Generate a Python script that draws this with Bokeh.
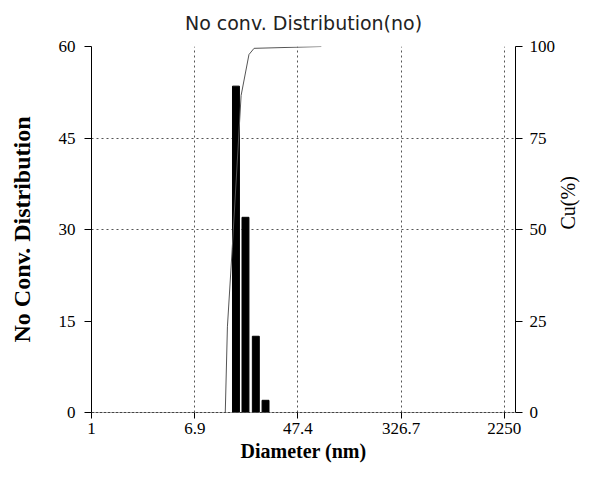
import math
from bokeh.plotting import figure
from bokeh.models import Range1d, LinearAxis, FixedTicker, CustomJSTickFormatter
from bokeh.embed import file_html
from bokeh.resources import INLINE

# ---- data ----
diameter_ticks = [1, 6.9, 47.4, 326.7, 2250]
bar_diameter = [14.9, 17.8, 21.6, 25.9]          # nm, bin centres
bar_count = [53.5, 32.0, 12.5, 2.0]              # No conv. distribution
cum_diameter = [12.2, 12.7, 13.9, 16.4, 19.0, 20.9, 73.5]
cum_percent = [0, 23.4, 44.9, 86.6, 97.8, 99.5, 100]
left_ticks = [0, 15, 30, 45, 60]
right_ticks = [0, 25, 50, 75, 100]
grid_ticks = [30, 45]

BAR_HALF = 1.067  # half bar width as a ratio on the log axis
SERIF = "Liberation Serif"

p = figure(width=593, height=464, x_axis_type="log",
           x_range=Range1d(1, 2775), y_range=Range1d(0, 60),
           output_backend="svg", toolbar_location=None,
           title="No conv. Distribution(no)",
           min_border_left=91, min_border_right=74,
           min_border_top=45, min_border_bottom=51)
p.extra_y_ranges = {"cu": Range1d(0, 100)}
p.outline_line_color = None
p.background_fill_color = "white"

p.title.align = "center"
p.title.vertical_align = "top"
p.title.text_font = "DejaVu Sans"
p.title.text_font_size = "19px"
p.title.text_font_style = "normal"
p.title.text_color = "#222222"
p.title.standoff = 22
p.title.offset = 6

# bars
p.quad(left=[d / BAR_HALF for d in bar_diameter],
       right=[d * BAR_HALF for d in bar_diameter],
       bottom=0, top=bar_count, fill_color="black", line_color="black")

# cumulative
p.line(cum_diameter, cum_percent, y_range_name="cu", line_color="#555555", line_width=1)

# axes
xa = p.xaxis[0]
xa.ticker = FixedTicker(ticks=diameter_ticks)
xa.formatter = CustomJSTickFormatter(code="return String(tick)")
xa.axis_label = "Diameter (nm)"
xa.axis_line_dash = "3 1"
xa.axis_line_color = "#444444"

ya = p.yaxis[0]
ya.ticker = FixedTicker(ticks=left_ticks)
ya.axis_label = "No Conv. Distribution"

ra = LinearAxis(y_range_name="cu", ticker=FixedTicker(ticks=right_ticks), axis_label="Cu(%)")
p.add_layout(ra, "right")

for ax in (xa, ya, ra):
    ax.major_label_text_font = SERIF
    ax.major_label_text_font_size = "17px"
    ax.major_label_text_color = "black"
    ax.axis_label_text_font = SERIF
    ax.axis_label_text_font_size = "21px"
    ax.axis_label_text_font_style = "bold"
    ax.axis_label_text_color = "black"
    ax.minor_tick_line_color = None
    ax.major_tick_in = 0
    ax.major_tick_out = 7
    ax.major_tick_line_color = "black"
    ax.major_label_standoff = 7

xa.major_tick_out = 6
xa.major_label_standoff = 4
xa.axis_label_standoff = 3
xa.axis_label_text_font_size = "20px"
ya.major_label_standoff = 9
ya.axis_label_standoff = 21
ya.axis_label_text_font_size = "24px"
ra.axis_label_text_font_style = "normal"
ra.axis_label_orientation = math.pi / 2
ra.axis_label_standoff = 10
ra.axis_label_text_font_size = "20px"

p.xgrid.grid_line_color = "#555555"
p.xgrid.grid_line_dash = "2 3"
p.ygrid.ticker = FixedTicker(ticks=grid_ticks)
p.ygrid.grid_line_color = "#555555"
p.ygrid.grid_line_dash = "2 3"

open("out.html", "w").write(file_html(p, INLINE))
